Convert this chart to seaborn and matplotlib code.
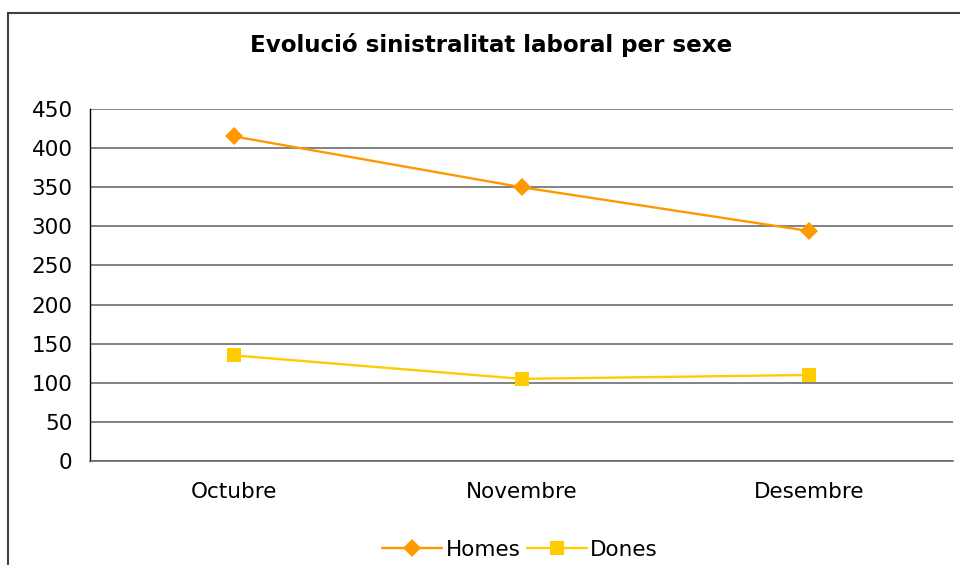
import numpy as np
import pandas as pd
import seaborn as sns
import matplotlib.pyplot as plt
from matplotlib.patches import Rectangle

months = ["Octubre", "Novembre", "Desembre"]
homes = [415, 350, 294]
dones = [135, 105, 110]
yticks = [0, 50, 100, 150, 200, 250, 300, 350, 400, 450]

sns.set_style("white")
plt.rcParams["font.family"] = ["DejaVu Sans"]
plt.rcParams["text.color"] = "black"

fig = plt.figure(figsize=(9.6, 5.65), dpi=100)
ax = fig.add_axes([90 / 960, 104 / 565, 863 / 960, 352 / 565])

pos = np.arange(len(months))
df_h = pd.DataFrame({"pos": pos, "val": homes})
df_d = pd.DataFrame({"pos": pos, "val": dones})

sns.lineplot(data=df_h, x="pos", y="val", ax=ax, color="#FF9900", marker="D",
             markersize=9.5, markeredgewidth=0, linewidth=1.7, label="Homes", zorder=3)
sns.lineplot(data=df_d, x="pos", y="val", ax=ax, color="#FFCC00", marker="s",
             markersize=10.5, markeredgewidth=0, linewidth=1.7, label="Dones", zorder=3)

ax.set_xlim(-0.5, 2.5)
ax.set_ylim(0, 450)
ax.set_yticks(yticks)
ax.yaxis.grid(True, color="#606060", linewidth=1.1)
ax.set_axisbelow(True)
ax.tick_params(axis="y", length=4.5, width=1, color="#606060", pad=8,
               labelsize=15.5, labelcolor="black")

# category boundaries as major ticks, labels on minor ticks
ax.set_xticks([-0.5, 0.5, 1.5, 2.5])
ax.set_xticklabels([])
ax.set_xticks(pos, minor=True)
ax.set_xticklabels(months, minor=True)
ax.tick_params(axis="x", which="major", length=4.5, width=1, color="#606060", direction="out")
ax.tick_params(axis="x", which="minor", length=0, pad=15, labelsize=15.5, labelcolor="black")
ax.set_xlabel("")
ax.set_ylabel("")

for s in ["top", "right"]:
    ax.spines[s].set_visible(False)
ax.spines["left"].set_color("black")
ax.spines["left"].set_linewidth(1)
ax.spines["bottom"].set_color("#606060")
ax.spines["bottom"].set_linewidth(1.1)

ax.legend(loc="center", bbox_to_anchor=(520 / 960, 15 / 565), bbox_transform=fig.transFigure,
          ncol=2, frameon=False, fontsize=15.5, handlelength=2.8, handletextpad=0.15,
          columnspacing=0.3, labelcolor="black")

fig.text(491 / 960, 1 - 45 / 565, "Evolució sinistralitat laboral per sexe",
         ha="center", va="center", fontsize=16.6, fontweight="bold", color="black")

# outer chart frame (right and bottom edges lie outside the image)
fig.patches.append(Rectangle((8 / 960, -0.05), 1.2, 1 - 13 / 565 + 0.05,
                             transform=fig.transFigure, fill=False,
                             edgecolor="#404040", linewidth=1.5))

fig.savefig("out.png", dpi=100)
